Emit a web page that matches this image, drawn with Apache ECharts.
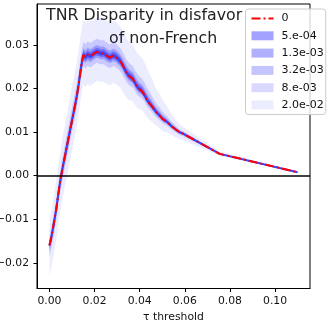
<!DOCTYPE html>
<html>
<head>
<meta charset="utf-8">
<script src="https://cdn.jsdelivr.net/npm/echarts@6/dist/echarts.min.js"></script>
<style>
  html, body { margin: 0; padding: 0; background: #fff; }
  #chart { width: 332px; height: 327px; }
</style>
</head>
<body>
<div id="chart"></div>
<script>
"use strict";
// tau grid and mean disparity
var tau = [0.000, 0.001, 0.002, 0.003, 0.004, 0.005, 0.006, 0.007, 0.008, 0.009,
  0.010, 0.011, 0.012, 0.013, 0.014, 0.015, 0.016, 0.017, 0.018, 0.019,
  0.020, 0.021, 0.022, 0.023, 0.024, 0.025, 0.026, 0.027, 0.028, 0.029,
  0.030, 0.031, 0.032, 0.033, 0.034, 0.035, 0.036, 0.037, 0.038, 0.039,
  0.040, 0.041, 0.042, 0.043, 0.044, 0.045, 0.046, 0.047, 0.048, 0.049,
  0.050, 0.051, 0.052, 0.053, 0.054, 0.055, 0.056, 0.057, 0.058, 0.059,
  0.0755, 0.110];
var disparity = [-0.0160, -0.0138, -0.0108, -0.0078, -0.0040, -0.0006, 0.0022, 0.0048, 0.0074, 0.0100,
  0.0126, 0.0152, 0.0178, 0.0210, 0.0248, 0.0277, 0.0272, 0.0278, 0.0274, 0.0277,
  0.0281, 0.0284, 0.0282, 0.0280, 0.0281, 0.0277, 0.0273, 0.0271, 0.0275, 0.0274,
  0.0270, 0.0265, 0.0258, 0.0248, 0.0238, 0.0230, 0.0226, 0.0222, 0.0212, 0.0203,
  0.0198, 0.0194, 0.0186, 0.0176, 0.0168, 0.0162, 0.0155, 0.0148, 0.0142, 0.0137,
  0.0131, 0.0127, 0.0124, 0.0119, 0.0114, 0.0110, 0.0106, 0.0102, 0.0099, 0.0097,
  0.0050, 0.0008];
// outer (2.0e-02) band half widths above / below the mean
var spreadUp = [0.0060, 0.0060, 0.0062, 0.0064, 0.0066, 0.0068, 0.0070, 0.0072, 0.0074, 0.0076,
  0.0078, 0.0080, 0.0080, 0.0080, 0.0080, 0.0080, 0.0080, 0.0080, 0.0080, 0.0080,
  0.0080, 0.0080, 0.0080, 0.0080, 0.0080, 0.0080, 0.0080, 0.0080, 0.0080, 0.0080,
  0.0080, 0.0080, 0.0080, 0.0080, 0.0079, 0.0079, 0.0078, 0.0078, 0.0078, 0.0078,
  0.0077, 0.0077, 0.0076, 0.0074, 0.0070, 0.0065, 0.0060, 0.0055, 0.0050, 0.0048,
  0.0045, 0.0040, 0.0036, 0.0032, 0.0028, 0.0025, 0.0022, 0.0020, 0.0018, 0.0016,
  0.0006, 0.0001];
var spreadDown = [0.0070, 0.0070, 0.0070, 0.0070, 0.0070, 0.0070, 0.0070, 0.0070, 0.0070, 0.0070,
  0.0070, 0.0070, 0.0070, 0.0068, 0.0068, 0.0068, 0.0068, 0.0068, 0.0068, 0.0068,
  0.0067, 0.0067, 0.0066, 0.0066, 0.0065, 0.0065, 0.0064, 0.0064, 0.0063, 0.0062,
  0.0062, 0.0061, 0.0060, 0.0060, 0.0058, 0.0056, 0.0054, 0.0052, 0.0050, 0.0048,
  0.0046, 0.0044, 0.0042, 0.0040, 0.0038, 0.0036, 0.0034, 0.0032, 0.0030, 0.0029,
  0.0028, 0.0026, 0.0024, 0.0022, 0.0020, 0.0019, 0.0018, 0.0017, 0.0016, 0.0015,
  0.0005, 0.0001];
// noise levels, share of the outer width, and fill opacity
var levels = ['5.e-04', '1.3e-03', '3.2e-03', '8.e-03', '2.0e-02'];
var levelFrac = [0.06, 0.12, 0.2, 0.38, 1.0];
var levelAlpha = [0.36, 0.31, 0.23, 0.15, 0.075];
var xTicks = [0, 0.02, 0.04, 0.06, 0.08, 0.10];
var yTicks = [-0.02, -0.01, 0, 0.01, 0.02, 0.03];

var FONT = 'DejaVu Sans';
var chart = echarts.init(document.getElementById('chart'));

function pairs(ys) {
  return tau.map(function (t, i) { return [t, ys[i]]; });
}

/**
 * band between lower and upper bound, drawn as one polygon
 */
function bandSeries(k) {
  var rows = tau.map(function (t, i) {
    return [t, disparity[i] - spreadDown[i] * levelFrac[k], disparity[i] + spreadUp[i] * levelFrac[k]];
  });
  var color = 'rgba(0,0,255,' + levelAlpha[k] + ')';
  return {
    type: 'custom', name: levels[k], data: rows, silent: true, clip: true,
    encode: { x: 0, y: [1, 2] },
    itemStyle: { color: color },
    renderItem: function (params, api) {
      if (params.dataIndex !== 0) {
        return;
      }
      var pts = [], i;
      for (i = 0; i < rows.length; i++) {
        pts.push(api.coord([rows[i][0], rows[i][2]]));
      }
      for (i = rows.length - 1; i >= 0; i--) {
        pts.push(api.coord([rows[i][0], rows[i][1]]));
      }
      return {
        type: 'polygon',
        shape: { points: pts },
        style: { fill: color, stroke: null }
      };
    }
  };
}

var series = [];
for (var k = levels.length - 1; k >= 0; k--) {
  series.push(bandSeries(k));
}
series.push({
  type: 'line', name: 'mean', data: pairs(disparity), symbol: 'none', silent: true,
  lineStyle: { color: '#3344ff', width: 2 },
  markLine: {
    silent: true, symbol: 'none', label: { show: false },
    lineStyle: { color: '#000', width: 1.6, type: 'solid' },
    data: [{ yAxis: 0 }]
  }
});
series.push({
  type: 'line', name: '0', data: pairs(disparity), symbol: 'none', silent: true,
  itemStyle: { color: '#ff0000' },
  lineStyle: { color: '#ff0000', width: 2, type: [9, 3, 2, 3] }
});

var legendData = [{ name: '0', itemStyle: { opacity: 0 } }].concat(levels.map(function (n, i) {
  return {
    name: n, icon: 'rect',
    itemStyle: { color: 'rgba(0,0,255,' + levelAlpha[i] + ')', borderWidth: 0 }
  };
}));

chart.setOption({
  animation: false,
  title: [
    { text: 'TNR Disparity in disfavor', left: 46, top: 8, padding: 0, z: 1,
      textStyle: { fontFamily: FONT, fontSize: 15.8, fontWeight: 'normal', color: '#222' } },
    { text: 'of non-French', left: 109, top: 31, padding: 0, z: 1,
      textStyle: { fontFamily: FONT, fontSize: 15.8, fontWeight: 'normal', color: '#222' } }
  ],
  legend: {
    data: legendData, orient: 'vertical', left: 245.5, top: 9,
    padding: [3.5, 2, 3.5, 5], itemWidth: 22, itemHeight: 9, itemGap: 5.3,
    backgroundColor: 'rgba(255,255,255,0.8)', borderColor: '#cccccc', borderWidth: 1, borderRadius: 3,
    textStyle: { fontFamily: FONT, fontSize: 11, lineHeight: 12, color: '#111', padding: [0, 0, 0, 3] },
    z: 10
  },
  grid: {
    left: 37, right: 22, top: 4, bottom: 38.5, outerBoundsMode: 'none',
    show: true, borderColor: '#000', borderWidth: 1
  },
  xAxis: {
    type: 'value', min: -0.0055, max: 0.1155,
    name: 'τ threshold', nameLocation: 'middle', nameGap: 21,
    nameTextStyle: { fontFamily: FONT, fontSize: 10.8, color: '#111' },
    axisLine: { show: true, onZero: false, lineStyle: { color: '#000', width: 1 } },
    axisTick: { show: true, length: 3.5, lineStyle: { color: '#000' }, customValues: xTicks },
    axisLabel: {
      fontFamily: FONT, fontSize: 10.8, color: '#111', margin: 7, customValues: xTicks,
      formatter: function (v) { return v.toFixed(2); }
    },
    splitLine: { show: false }
  },
  yAxis: {
    type: 'value', min: -0.0259, max: 0.0394,
    axisLine: { show: true, onZero: false, lineStyle: { color: '#000', width: 1 } },
    axisTick: { show: true, length: 3.5, lineStyle: { color: '#000' }, customValues: yTicks },
    axisLabel: {
      fontFamily: FONT, fontSize: 10.8, color: '#111', margin: 8, customValues: yTicks,
      formatter: function (v) { return (v < 0 ? '\u2212' : '') + Math.abs(v).toFixed(2); }
    },
    splitLine: { show: false }
  },
  series: series
});
</script>
</body>
</html>
